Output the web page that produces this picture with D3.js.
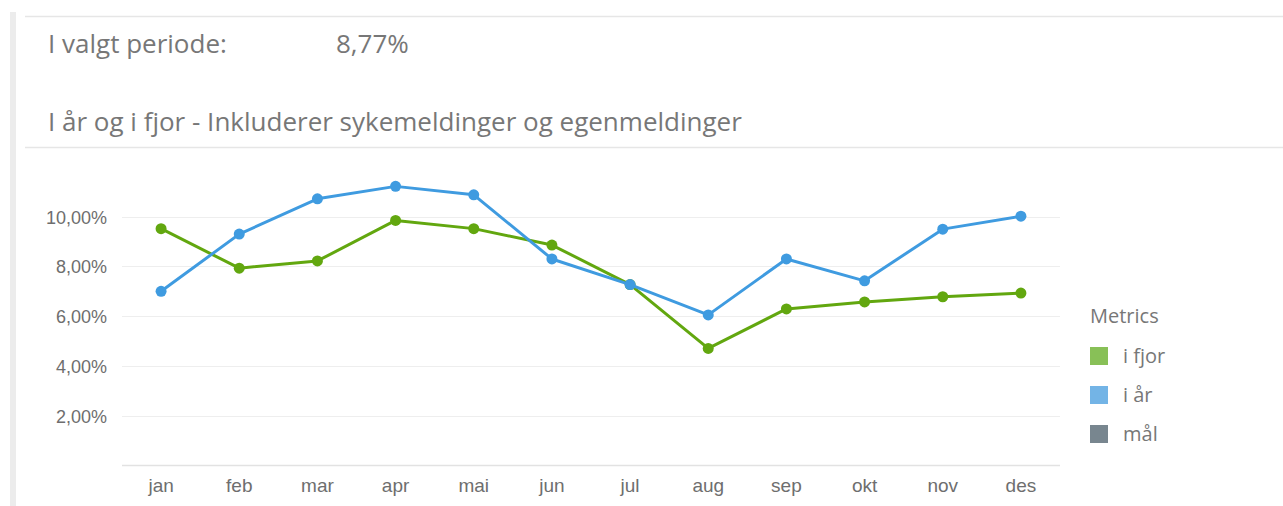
<!DOCTYPE html>
<html>
<head>
<meta charset="utf-8">
<script src="https://cdn.jsdelivr.net/npm/d3@7"></script>
<style>
  body { margin: 0; background: #fff; font-family: "Open Sans", sans-serif; }
  .grid line { stroke: #eeeeee; }
  .tick text { fill: #6e6e6e; }
</style>
</head>
<body>
<div id="chart"></div>
<script>
// months on the x axis
var months = ["jan", "feb", "mar", "apr", "mai", "jun", "jul", "aug", "sep", "okt", "nov", "des"];

// percent values
var iFjor = [9.52, 7.93, 8.22, 9.85, 9.52, 8.86, 7.27, 4.70, 6.29, 6.57, 6.78, 6.93];
var iAar  = [7.00, 9.30, 10.72, 11.22, 10.88, 8.30, 7.27, 6.05, 8.30, 7.42, 9.50, 10.02];

var yTicks = [2, 4, 6, 8, 10];

var legendItems = [
  { name: "i fjor", color: "#88c057" },
  { name: "i år", color: "#73b4e6" },
  { name: "mål", color: "#78868f" }
];

var width = 1283, height = 506;

var svg = d3.select("#chart").append("svg")
    .attr("width", width)
    .attr("height", height);

// left panel edge and separator lines
svg.append("rect")
    .attr("x", 10).attr("y", 12)
    .attr("width", 6).attr("height", height - 12)
    .attr("fill", "#ececec");

svg.append("line")
    .attr("x1", 25).attr("x2", width)
    .attr("y1", 16.5).attr("y2", 16.5)
    .attr("stroke", "#e6e6e6").attr("stroke-width", 1.5);

svg.append("line")
    .attr("x1", 25).attr("x2", width)
    .attr("y1", 147.5).attr("y2", 147.5)
    .attr("stroke", "#e6e6e6").attr("stroke-width", 1.5);

svg.append("text")
    .attr("x", 48).attr("y", 53)
    .attr("fill", "#777").attr("font-size", "26px")
    .text("I valgt periode:");

svg.append("text")
    .attr("x", 336).attr("y", 53)
    .attr("fill", "#777").attr("font-size", "26px")
    .text("8,77%");

svg.append("text")
    .attr("x", 48).attr("y", 131)
    .attr("fill", "#777").attr("font-size", "26px")
    .text("I år og i fjor - Inkluderer sykemeldinger og egenmeldinger");

// scales
var x = d3.scaleBand()
    .domain(months)
    .range([122, 1060]);

var y = d3.scaleLinear()
    .domain([0, 10])
    .range([465.3, 216.7]);

var fmt = function(d) { return d3.format(".2f")(d).replace(".", ",") + "%"; };

// horizontal grid
svg.append("g")
    .attr("class", "grid")
    .selectAll("line")
    .data(yTicks)
    .join("line")
    .attr("x1", 122).attr("x2", 1060)
    .attr("y1", function(d) { return Math.round(y(d)) + 0.5; })
    .attr("y2", function(d) { return Math.round(y(d)) + 0.5; });

svg.append("line")
    .attr("x1", 122).attr("x2", 1060)
    .attr("y1", 465.5).attr("y2", 465.5)
    .attr("stroke", "#e2e2e2").attr("stroke-width", 1.5);

// y axis labels
var yAxis = svg.append("g")
    .attr("transform", "translate(107,0)")
    .call(d3.axisLeft(y).tickValues(yTicks).tickFormat(fmt).tickSize(0).tickPadding(0));
yAxis.select(".domain").remove();
yAxis.selectAll("text").attr("dy", "0.36em").attr("font-size", "18px");

// x axis labels
var xAxis = svg.append("g")
    .attr("transform", "translate(0,478)")
    .call(d3.axisBottom(x).tickSize(0).tickPadding(0));
xAxis.select(".domain").remove();
xAxis.selectAll("text").attr("dy", "0.76em").attr("font-size", "19px");

// lines and markers
var series = [
  { values: iFjor, color: "#62a70f" },
  { values: iAar, color: "#3f9be0" }
];

var line = d3.line()
    .x(function(d, i) { return x(months[i]) + x.bandwidth() / 2; })
    .y(function(d) { return y(d); });

series.forEach(function(s) {
  svg.append("path")
      .datum(s.values)
      .attr("fill", "none")
      .attr("stroke", s.color)
      .attr("stroke-width", 3)
      .attr("stroke-linejoin", "round")
      .attr("d", line);

  svg.append("g")
      .selectAll("circle")
      .data(s.values)
      .join("circle")
      .attr("cx", function(d, i) { return x(months[i]) + x.bandwidth() / 2; })
      .attr("cy", function(d) { return y(d); })
      .attr("r", 5.5)
      .attr("fill", s.color);
});

// legend
var legend = svg.append("g").attr("transform", "translate(1090,0)");

legend.append("text")
    .attr("x", 0).attr("y", 323)
    .attr("fill", "#777").attr("font-size", "20px")
    .text("Metrics");

var item = legend.selectAll("g.item")
    .data(legendItems)
    .join("g")
    .attr("class", "item")
    .attr("transform", function(d, i) { return "translate(0," + (347 + i * 39) + ")"; });

item.append("rect")
    .attr("width", 18).attr("height", 18)
    .attr("fill", function(d) { return d.color; });

item.append("text")
    .attr("x", 33).attr("y", 16)
    .attr("fill", "#777").attr("font-size", "20px")
    .text(function(d) { return d.name; });
</script>
</body>
</html>
